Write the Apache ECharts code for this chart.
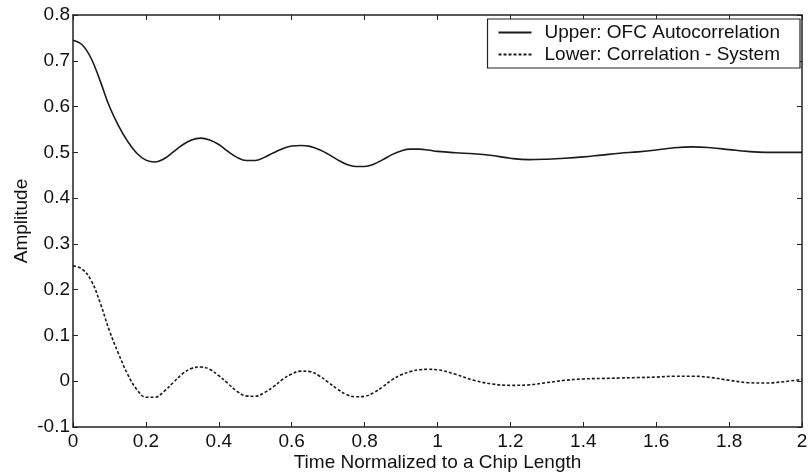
<!DOCTYPE html>
<html>
<head>
<meta charset="utf-8">
<script src="https://cdn.jsdelivr.net/npm/echarts@6/dist/echarts.min.js"></script>
<style>
html,body{margin:0;padding:0;background:#fff;}
#chart{width:808px;height:472px;}
</style>
</head>
<body>
<div id="chart"></div>
<script>
// x positions (time normalized to chip length)
var timeX = [0,0.025,0.05,0.075,0.1,0.125,0.15,0.175,0.2,0.225,0.25,0.275,0.3,0.325,0.35,0.375,0.4,0.425,0.45,0.475,
	0.5,0.525,0.55,0.575,0.6,0.625,0.65,0.675,0.7,0.725,0.75,0.775,0.8,0.825,0.85,0.875,0.9,0.925,0.95,0.975,
	1.0,1.05,1.1,1.15,1.2,1.25,1.3,1.35,1.4,1.45,1.5,1.55,1.6,1.65,1.7,1.75,1.8,1.85,1.9,1.95,2.0];
// upper: OFC autocorrelation
var upperVals = [0.745,0.735,0.705,0.655,0.600,0.558,0.524,0.498,0.483,0.479,0.486,0.501,0.516,0.527,0.531,0.527,0.517,0.502,0.489,0.482,
	0.482,0.489,0.499,0.508,0.514,0.515,0.513,0.506,0.496,0.484,0.474,0.469,0.469,0.474,0.484,0.495,0.503,0.507,0.507,0.505,
	0.502,0.499,0.497,0.493,0.487,0.484,0.485,0.487,0.490,0.494,0.498,0.501,0.505,0.510,0.512,0.510,0.506,0.502,0.500,0.500,0.500];
// lower: correlation - system
var lowerVals = [0.252,0.245,0.220,0.170,0.110,0.060,0.015,-0.018,-0.035,-0.035,-0.022,-0.003,0.016,0.028,0.031,0.026,0.012,-0.005,-0.022,-0.032,
	-0.033,-0.025,-0.012,0.004,0.016,0.022,0.021,0.012,-0.002,-0.017,-0.029,-0.034,-0.033,-0.025,-0.012,0.003,0.014,0.021,0.025,0.026,
	0.025,0.015,0.002,-0.006,-0.009,-0.008,-0.003,0.002,0.005,0.006,0.007,0.008,0.009,0.011,0.011,0.008,0.002,-0.003,-0.004,-0.001,0.004];
var seriesNames = ["Upper: OFC Autocorrelation", "Lower: Correlation - System"];

function pairs(ys) {
	var out = [];
	for (var i = 0; i < timeX.length; i++) {
		out.push([timeX[i], ys[i]]);
	}
	return out;
}

var myChart = echarts.init(document.getElementById('chart'));
var font = "Liberation Sans, Arial, sans-serif";
var axisLine = {show: true, onZero: false, lineStyle: {color: '#222', width: 1.5}};
var fmt = function(v) { return String(+v.toFixed(1)); };

var option = {
	backgroundColor: '#fff',
	animation: false,
	grid: {left: 73, right: 6, top: 15, bottom: 45, containLabel: false, outerBoundsMode: 'none'},
	legend: {
		right: 8, top: 19,
		orient: 'vertical',
		data: seriesNames,
		backgroundColor: '#fff',
		borderColor: '#222',
		borderWidth: 1.2,
		borderRadius: 0,
		padding: [4, 20, 4, 10],
		itemGap: 3,
		itemWidth: 33,
		itemHeight: 14,
		itemStyle: {opacity: 0},
		textStyle: {color: '#111', fontSize: 19, fontFamily: font, padding: [0, 0, 0, 8]}
	},
	xAxis: [{
		type: 'value', min: 0, max: 2, interval: 0.2,
		name: 'Time Normalized to a Chip Length',
		nameLocation: 'middle', nameGap: 26, nameMoveOverlap: false,
		nameTextStyle: {color: '#111', fontSize: 19, fontFamily: font},
		axisLine: axisLine,
		axisTick: {inside: true, length: 5, lineStyle: {color: '#222'}},
		axisLabel: {color: '#111', fontSize: 19, fontFamily: font, margin: 5, formatter: fmt},
		splitLine: {show: false}
	}, {
		type: 'value', min: 0, max: 2, interval: 0.2, position: 'top',
		axisLine: axisLine,
		axisTick: {inside: true, length: 5, lineStyle: {color: '#222'}},
		axisLabel: {show: false},
		splitLine: {show: false}
	}],
	yAxis: [{
		type: 'value', min: -0.1, max: 0.8, interval: 0.1,
		name: 'Amplitude',
		nameLocation: 'middle', nameGap: 42, nameMoveOverlap: false,
		nameTextStyle: {color: '#111', fontSize: 19, fontFamily: font},
		axisLine: axisLine,
		axisTick: {inside: true, length: 5, lineStyle: {color: '#222'}},
		axisLabel: {color: '#111', fontSize: 19, fontFamily: font, margin: 3, formatter: fmt},
		splitLine: {show: false}
	}, {
		type: 'value', min: -0.1, max: 0.8, interval: 0.1, position: 'right',
		axisLine: axisLine,
		axisTick: {inside: true, length: 5, lineStyle: {color: '#222'}},
		axisLabel: {show: false},
		splitLine: {show: false}
	}],
	series: [{
		name: seriesNames[0],
		type: 'line',
		smooth: 0.4,
		symbol: 'none',
		data: pairs(upperVals),
		lineStyle: {color: '#1a1a1a', width: 1.6, type: 'solid'},
		itemStyle: {color: '#1a1a1a'}
	}, {
		name: seriesNames[1],
		type: 'line',
		smooth: 0.4,
		symbol: 'none',
		data: pairs(lowerVals),
		lineStyle: {color: '#1a1a1a', width: 1.6, type: [3, 2]},
		itemStyle: {color: '#1a1a1a'}
	}]
};

myChart.setOption(option);
</script>
</body>
</html>
